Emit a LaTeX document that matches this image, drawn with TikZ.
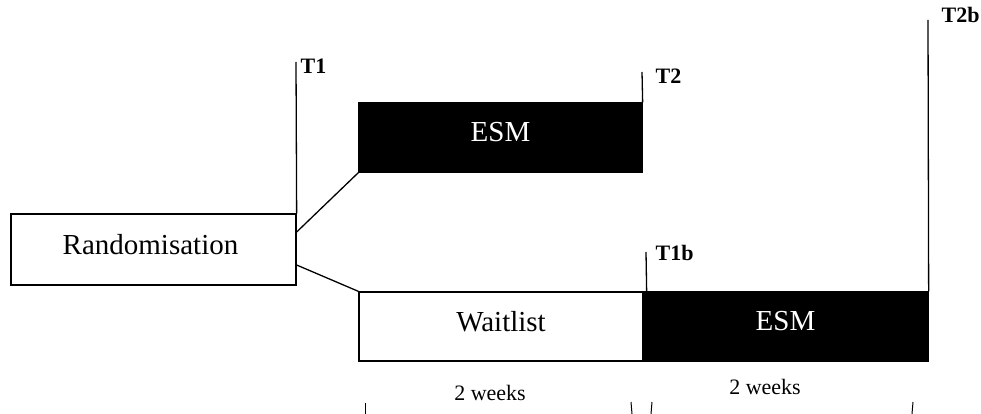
\documentclass[tikz,border=0pt]{standalone}
\usepackage{fontspec}
\setmainfont{Liberation Serif}
\begin{document}
\begin{tikzpicture}[x=1pt,y=-1pt,
  line width=1.3pt,
  box/.style={draw=black,line width=1.3pt,minimum width=#1,minimum height=69pt,inner sep=0pt},
  boxtext/.style={inner sep=0pt,font=\fontsize{29}{32}\selectfont},
  darkbox/.style={box=#1,fill=black},
  tlabel/.style={anchor=north west,inner sep=0pt,font=\fontsize{22}{24}\selectfont\bfseries},
  weeks/.style={inner sep=0pt,font=\fontsize{22}{24}\selectfont},
  tick/.style={line width=1pt}]
\useasboundingbox (0,0) rectangle (981,414);
\node[box=285pt,minimum height=71pt] (rand) at (153.5,249.5) {};
\node[darkbox=283pt] (esm1) at (500.5,137.5) {};
\node[box=284pt] (wait) at (501,326.5) {};
\node[darkbox=285pt] (esm2) at (785.5,326.5) {};
\node[boxtext] (randtxt) at ([xshift=-3pt,yshift=5pt]rand.center) {Randomisation};
\node[boxtext,text=white] (esm1txt) at ([yshift=5pt]esm1.center) {ESM};
\node[boxtext] (waittxt) at ([yshift=5pt]wait.center) {Waitlist};
\node[boxtext,text=white] (esm2txt) at ([yshift=5pt]esm2.center) {ESM};
% connectors
\draw ([yshift=17.5pt]rand.east) -- (esm1.south west);
\draw ([yshift=-15.5pt]rand.east) -- (wait.north west);
% time points
\coordinate (t1top) at (296,62);
\coordinate (t2top) at (642,72);
\coordinate (t1btop) at (646,252);
\coordinate (t2btop) at (928,20);
\draw (rand.north east) -- (t1top);
\draw (esm1.north east) -- (t2top);
\draw ([xshift=3pt]wait.north east) -- (t1btop);
\draw (esm2.north east) -- (t2btop);
\node[tlabel] (lt1) at (300,58) {T1};
\node[tlabel] (lt2) at (655,68) {T2};
\node[tlabel] (lt1b) at (655,245) {T1b};
\node[tlabel] (lt2b) at (941,7) {T2b};
% durations
\node[weeks] (w1) at (490,393) {2 weeks};
\node[weeks] (w2) at (765,387) {2 weeks};
\coordinate (a1) at (365,403); \coordinate (a2) at (365,414);
\coordinate (b1) at (631,402); \coordinate (b2) at (632,414);
\coordinate (c1) at (652,402); \coordinate (c2) at (651,414);
\coordinate (d1) at (913,402); \coordinate (d2) at (912,414);
\draw[tick] (a1) -- (a2);
\draw[tick] (b1) -- (b2);
\draw[tick] (c1) -- (c2);
\draw[tick] (d1) -- (d2);
\end{tikzpicture}
\end{document}
